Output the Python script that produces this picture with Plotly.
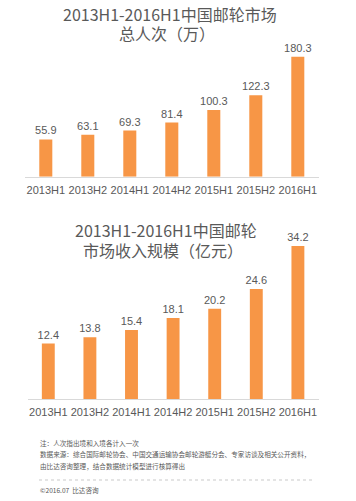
import plotly.graph_objects as go

W, H = 356, 501

categories = ["2013H1", "2013H2", "2014H1", "2014H2", "2015H1", "2015H2", "2016H1"]
passengers = [55.9, 63.1, 69.3, 81.4, 100.3, 122.3, 180.3]
revenue = [12.4, 13.8, 15.4, 18.1, 20.2, 24.6, 34.2]

title_top = ["2013H1-2016H1中国邮轮市场", "总人次（万）"]
title_bottom = ["2013H1-2016H1中国邮轮", "市场收入规模（亿元）"]
notes = [
    "注：人次指出境和入境各计入一次",
    "数据来源：综合国际邮轮协会、中国交通运输协会邮轮游艇分会、专家访谈及相关公开资料，",
    "由比达咨询整理，结合数据统计模型进行核算得出",
]
copyright_text = "©2016.07  比达咨询"

BAR = "#F79646"
TXT = "#595959"
AX = "#D9D9D9"
NUMFONT = "Arial"
CJK = "Noto Sans CJK SC"

def px_x(x):
    return x / W

def px_y(y):
    return 1 - y / H

fig = go.Figure()
fig.add_trace(go.Bar(
    x=categories, y=passengers, xaxis="x", yaxis="y",
    marker=dict(color=BAR, line=dict(width=0)), width=0.31,
    text=[f"{v:.1f}" for v in passengers], textposition="outside",
    constraintext="none",
    textfont=dict(size=11, color=TXT, family=NUMFONT), cliponaxis=False,
))
fig.add_trace(go.Bar(
    x=categories, y=revenue, xaxis="x2", yaxis="y2",
    marker=dict(color=BAR, line=dict(width=0)), width=0.31,
    text=[f"{v:.1f}" for v in revenue], textposition="outside",
    constraintext="none",
    textfont=dict(size=11, color=TXT, family=NUMFONT), cliponaxis=False,
))

axis_common = dict(
    showgrid=False, zeroline=False, showline=True, linecolor=AX, linewidth=1,
    ticks="outside", ticklen=3, tickcolor="rgba(0,0,0,0)",
    tickfont=dict(size=11, color=TXT, family=NUMFONT),
    range=[-0.5, 6.5], fixedrange=True,
)

fig.update_layout(
    width=W, height=H,
    margin=dict(l=0, r=0, t=0, b=0),
    paper_bgcolor="white", plot_bgcolor="white",
    showlegend=False,
    xaxis=dict(domain=[px_x(24.8), px_x(318.8)], anchor="y", **axis_common),
    yaxis=dict(domain=[px_y(176.7), px_y(176.7 - 200 * 120 / 180.3)],
               range=[0, 200], visible=False, anchor="x"),
    xaxis2=dict(domain=[px_x(27.5), px_x(318.7)], anchor="y2", **axis_common),
    yaxis2=dict(domain=[px_y(399), px_y(399 - 40 * 153 / 34.2)],
                range=[0, 40], visible=False, anchor="x2"),
)

def add_text(t, x, y, size, anchor="center", family=CJK):
    fig.add_annotation(text=t, x=px_x(x), y=px_y(y), xref="paper", yref="paper",
                       xanchor=anchor, yanchor="middle", showarrow=False,
                       font=dict(size=size, color=TXT, family=family))

# titles
add_text(title_top[0], 170.4, 13.5, 16)
add_text(title_top[1], 167, 33.5, 16)
add_text(title_bottom[0], 166, 229.5, 16)
add_text(title_bottom[1], 162.5, 250, 16)

# footnotes
for t, yy in zip(notes, [442.7, 454.3, 466]):
    add_text(t, 38, yy, 6.6, anchor="left")
add_text(copyright_text, 38, 489.5, 6.6, anchor="left")
fig.add_shape(type="line", xref="paper", yref="paper",
              x0=px_x(39), x1=px_x(313), y0=px_y(480), y1=px_y(480),
              line=dict(color="#A6A6A6", width=0.6, dash="dot"))

fig.write_html("out.html", config={"displayModeBar": False},
               post_script="document.body.style.margin='0';document.body.style.overflow='hidden';")
